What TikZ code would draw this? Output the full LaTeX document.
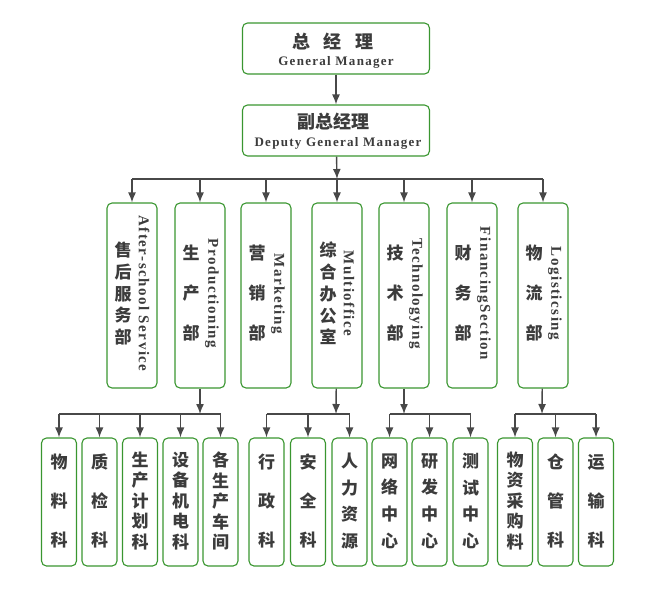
\documentclass[tikz,border=0pt]{standalone}
\usepackage{fontspec}
\usetikzlibrary{arrows.meta}

\newfontfamily\cjk{Noto Sans CJK SC}
\newfontfamily\enfont{Liberation Serif}[LetterSpace=10]
\definecolor{boxgreen}{RGB}{58,150,48}
\definecolor{linegray}{RGB}{72,72,72}
\definecolor{txtgray}{RGB}{60,60,60}

\tikzset{
  card/.style={draw=boxgreen, line width=1.1pt, rounded corners=5pt, fill=white},
  link/.style={draw=linegray, line width=1.4pt},
  zh/.style={text=txtgray, font=\cjk\bfseries\fontsize{17}{#1}\selectfont, align=center, inner sep=0pt},
  en/.style={text=txtgray, font=\enfont\bfseries\fontsize{#1}{#1}\selectfont, inner sep=0pt},
}

\begin{document}
\begin{tikzpicture}[x=1pt, y=-1pt, >={Latex[length=10pt,width=8pt]}]

\useasboundingbox (0,0) rectangle (650,600);

% General manager and deputy
\node[card, minimum width=187pt, minimum height=51pt] (gm) at (336,48.5) {};
\node[zh=18, font=\cjk\bfseries\fontsize{18}{18}\selectfont] (gm-zh) at (333,42) {总\hspace{14pt}经\hspace{14pt}理};
\node[en=13] (gm-en) at (336,62) {General Manager};

\node[card, minimum width=187pt, minimum height=51pt] (dgm) at (336,130.5) {};
\node[zh=18, font=\cjk\bfseries\fontsize{18}{18}\selectfont] (dgm-zh) at (333,122) {副总经理};
\node[en=13] (dgm-en) at (338,143) {Deputy General Manager};

\draw[link, ->] (gm) -- (dgm);

% Departments
\foreach \nm/\x/\zh/\gap/\en in {
    after/132/{售\\后\\服\\务\\部}/21.75/After-school Service,
    prod/200/{生\\产\\部}/40/Productioning,
    mark/266/{营\\销\\部}/40/Marketing,
    multi/337/{综\\合\\办\\公\\室}/21.75/Multioffice,
    tech/404/{技\\术\\部}/40/Technologying,
    fin/472/{财\\务\\部}/40/FinancingSection,
    logi/543/{物\\流\\部}/40/Logisticsing} {
    \node[card, minimum width=50pt, minimum height=185pt] (\nm) at (\x,295.5) {};
    \node[zh=\gap] (\nm-zh) at ([xshift=-9pt, yshift=2pt]\nm.center) {\zh};
    \node[en=15, rotate=-90] (\nm-en) at ([xshift=12pt, yshift=2pt]\nm.center) {\en};
}

% Bus below the deputy
\coordinate (topbus) at (337,179);
\draw[link, ->] (dgm) -- (topbus);
\draw[link] (after |- topbus) -- (logi |- topbus);
\foreach \nm in {after, prod, mark, multi, tech, fin, logi} {
    \draw[link, ->] (\nm |- topbus) -- (\nm.north);
}

% Sections
\foreach \nm/\x/\zh/\gap in {
    s1/59/{物\\料\\科}/39,
    s2/99.5/{质\\检\\科}/39,
    s3/140/{生\\产\\计\\划\\科}/20.5,
    s4/180.5/{设\\备\\机\\电\\科}/20.5,
    s5/220.5/{各\\生\\产\\车\\间}/20.5,
    s6/266.5/{行\\政\\科}/39,
    s7/308/{安\\全\\科}/39,
    s8/349.5/{人\\力\\资\\源}/26.7,
    s9/389.5/{网\\络\\中\\心}/26.7,
    s10/429.5/{研\\发\\中\\心}/26.7,
    s11/470.5/{测\\试\\中\\心}/26.7,
    s12/515/{物\\资\\采\\购\\料}/20.5,
    s13/555.5/{仓\\管\\科}/39,
    s14/596/{运\\输\\科}/39} {
    \node[card, minimum width=35pt, minimum height=128pt] (\nm) at (\x,502) {};
    \node[zh=\gap] (\nm-zh) at ([yshift=1pt]\nm.center) {\zh};
}

% Buses below the departments
\coordinate (prodbus) at (200,414);
\coordinate (multibus) at (336,414);
\coordinate (techbus) at (404,414);
\coordinate (logibus) at (542,414);

\draw[link, ->] (prod) -- (prodbus);
\draw[link] (s1 |- prodbus) -- (s5 |- prodbus);
\foreach \nm in {s1, s2, s3, s4, s5} {
    \draw[link, ->] (\nm |- prodbus) -- (\nm.north);
}

\draw[link, ->] (multi) -- (multibus);
\draw[link] (s6 |- multibus) -- (s8 |- multibus);
\foreach \nm in {s6, s7, s8} {
    \draw[link, ->] (\nm |- multibus) -- (\nm.north);
}

\draw[link, ->] (tech) -- (techbus);
\draw[link] (s9 |- techbus) -- (s11 |- techbus);
\foreach \nm in {s9, s10, s11} {
    \draw[link, ->] (\nm |- techbus) -- (\nm.north);
}

\draw[link, ->] (logi) -- (logibus);
\draw[link] (s12 |- logibus) -- (s14 |- logibus);
\foreach \nm in {s12, s13, s14} {
    \draw[link, ->] (\nm |- logibus) -- (\nm.north);
}

\end{tikzpicture}
\end{document}
